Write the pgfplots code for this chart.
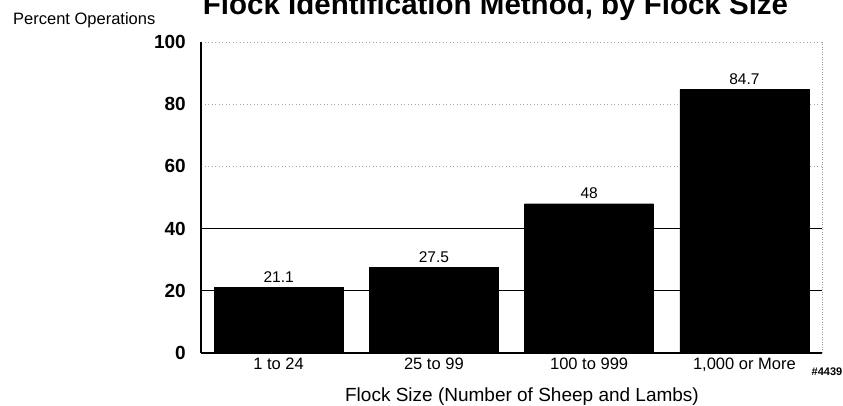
\documentclass[border=0pt]{standalone}
\usepackage{pgfplots}
\pgfplotsset{compat=1.18}
\usepackage{fontspec}
\setmainfont{Liberation Sans}
\begin{document}
\begin{tikzpicture}[x=1pt,y=1pt]
\useasboundingbox (0,0) rectangle (843,406);
\begin{axis}[
  at={(201pt,53pt)}, anchor=south west,
  scale only axis, width=621pt, height=311pt,
  xmin=-0.5, xmax=3.5, ymin=0, ymax=100,
  ybar, bar width=129pt,
  axis x line*=bottom, axis y line*=left,
  x axis line style={line width=1.5pt, black},
  y axis line style={line width=2pt, black},
  major tick length=0pt,
  xtick={0,1,2,3},
  xticklabels={1 to 24,25 to 99,100 to 999,{1,000 or More}},
  ytick={0,20,40,60,80,100},
  /pgf/number format/assume math mode=true,
  yticklabel style={font=\fontsize{19}{19}\selectfont\bfseries, inner sep=0pt, xshift=-15pt},
  xticklabel style={font=\fontsize{16.5}{16.5}\selectfont, inner sep=0pt, yshift=-5pt},
  ymajorgrids,
  major grid style={gray!70, dash pattern=on 1pt off 2.5pt, line width=0.7pt},
  extra y ticks={20,40},
  extra y tick labels={},
  extra y tick style={grid=major, major grid style={black, solid, line width=0.9pt}},
  nodes near coords,
  every node near coord/.append style={font=\fontsize{15.5}{15.5}\selectfont, inner sep=0pt, anchor=south, yshift=5pt, black},
  clip=false,
]
\addplot[fill=black, draw=black] coordinates {(0,21.1) (1,27.5) (2,48) (3,84.7)};
\draw[gray!80, dash pattern=on 1pt off 1.5pt, line width=0.8pt] (axis cs:3.5,0) -- (axis cs:3.5,100);
\end{axis}
\node[anchor=base, font=\fontsize{29.5}{29.5}\selectfont\bfseries] at (495.5pt,391pt) {Flock Identification Method, by Flock Size};
\node[anchor=base west, inner sep=0pt, font=\fontsize{16.5}{16.5}\selectfont] at (13pt,381pt) {Percent Operations};
\node[anchor=base, inner sep=0pt, font=\fontsize{19}{19}\selectfont] at (522pt,4pt) {Flock Size (Number of Sheep and Lambs)};
\node[anchor=base east, inner sep=0pt, font=\fontsize{11}{11}\selectfont\bfseries] at (842.5pt,30pt) {\#4439};
\end{tikzpicture}
\end{document}
